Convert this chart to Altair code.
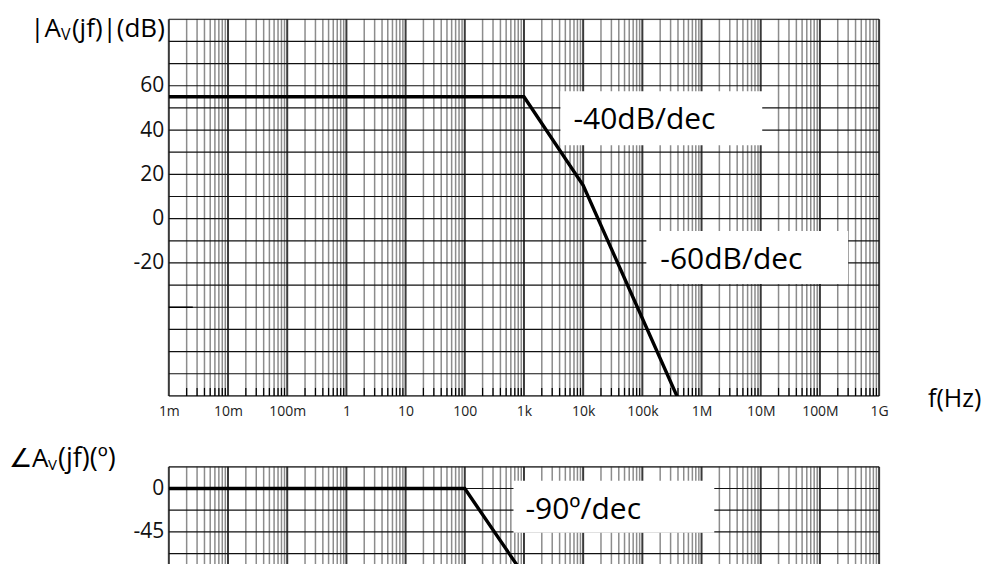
import altair as alt
import pandas as pd

# ---- data ----
mag_f = [1e-3, 1e3, 1e4, 1e6]
mag_db = [55, 55, 15, -105]
ph_f = [1e-3, 1e2, 1e4]
ph_deg = [0, 0, -180]
stub_f = [1e-3, 2.54e-3]
stub_db = [-40, -40]

decade_exp = list(range(-3, 10))
decade_labels = ["1m", "10m", "100m", "1", "10", "100", "1k", "10k",
                 "100k", "1M", "10M", "100M", "1G"]
minor_mult = [2, 3, 4, 5, 6, 7, 8, 9]
mag_grid = list(range(-80, 91, 10))
mag_ticks = [60, 40, 20, 0, -20]
ph_grid = [22.5, 0, -22.5, -45, -67.5]
ph_ticks = [0, -45]

FONT = "Open Sans"
W = 711
H1 = 377
H2 = 98

decades = [10.0 ** e for e in decade_exp]
minors = [m * 10.0 ** e for e in decade_exp[:-1] for m in minor_mult]

df_major = pd.DataFrame({"f": decades})
df_minor = pd.DataFrame({"f": minors})
df_mag = pd.DataFrame({"f": mag_f, "v": mag_db})
df_stub = pd.DataFrame({"f": stub_f, "v": stub_db})
df_ph = pd.DataFrame({"f": ph_f, "v": ph_deg})
df_hmag = pd.DataFrame({"v": mag_grid})
df_hph = pd.DataFrame({"v": ph_grid})
one = pd.DataFrame({"a": [0]})

label_js = "[" + ",".join("'%s'" % s for s in decade_labels) + "]"
xscale = alt.Scale(type="log", domain=[1e-3, 1e9])


def xenc(axis=True):
    if axis:
        ax = alt.Axis(values=decades, labelExpr=label_js + "[round(log(datum.value)/LN10)+3]",
                      grid=False, ticks=False, domain=False, title=None,
                      labelFont=FONT, labelFontSize=14, labelColor="#222",
                      labelPadding=9, labelFlush=False, labelOverlap=False)
    else:
        ax = None
    return alt.X("f:Q", scale=xscale, axis=ax)


def yenc(domain, ticks):
    return alt.Y("v:Q", scale=alt.Scale(domain=domain, nice=False, zero=False),
                 axis=alt.Axis(values=ticks, grid=False, ticks=False, domain=False,
                               title=None, labelFont=FONT, labelFontSize=21,
                               labelColor="#111", labelPadding=5,
                               labelExpr="'' + datum.value", labelFlush=False))


def text(t, x, y, size, align="left", baseline="alphabetic"):
    return alt.Chart(one).mark_text(text=t, font=FONT, fontSize=size, align=align,
                                    baseline=baseline, color="#000").encode(
        x=alt.value(x), y=alt.value(y))


def box(x1, x2, y1, y2):
    return alt.Chart(one).mark_rect(color="white").encode(
        x=alt.value(x1), x2=alt.value(x2), y=alt.value(y1), y2=alt.value(y2))


def grid_layers(axis, ydom, yticks, hdf):
    minor = alt.Chart(df_minor).mark_rule(color="#8c8c8c", strokeWidth=1.5).encode(x=xenc(axis))
    major = alt.Chart(df_major).mark_rule(color="#3a3a3a", strokeWidth=2).encode(x=xenc(axis))
    hl = alt.Chart(hdf).mark_rule(color="#111", strokeWidth=1.2).encode(y=yenc(ydom, yticks))
    return [minor, major, hl]


# ---- magnitude panel ----
mag_dom = [-80, 90]
top_layers = grid_layers(True, mag_dom, mag_ticks, df_hmag)
ticks_bottom = alt.Chart(df_minor).mark_rule(color="#000", strokeWidth=1.2).encode(
    x=xenc(True), y=alt.value(H1 - 8), y2=alt.value(H1))
stub = alt.Chart(df_stub).mark_line(color="#000", strokeWidth=1.5).encode(
    x=xenc(True), y=yenc(mag_dom, mag_ticks))
mag_line = alt.Chart(df_mag).mark_line(color="#000", strokeWidth=3.4, clip=True).encode(
    x=xenc(True), y=yenc(mag_dom, mag_ticks))
marker_t = alt.Chart(one).mark_rule(color="white").encode(
    x=alt.value(-100), x2=alt.value(-99), y=alt.value(-10), y2=alt.value(-9))

top = alt.layer(
    *top_layers, ticks_bottom,
    box(392, 594, 72, 126), box(478, 680, 212, 265),
    stub, mag_line,
    text("-40dB/dec", 405, 110, 30),
    text("-60dB/dec", 492, 250, 30),
    text("|A", -108, 18, 26, align="right"),
    text("V", -108, 21, 16),
    text("(jf)|(dB)", -97, 18, 26),
    text("f(Hz)", 760, 388, 25),
    marker_t,
).properties(width=W, height=H1)

# ---- phase panel ----
ph_dom = [-79, 22.5]
bot_layers = grid_layers(False, ph_dom, ph_ticks, df_hph)
ph_line = alt.Chart(df_ph).mark_line(color="#000", strokeWidth=3.4, clip=True).encode(
    x=xenc(False), y=yenc(ph_dom, ph_ticks))

bottom = alt.layer(
    *bot_layers,
    box(345, 546, 14, 66),
    ph_line,
    text("-90º/dec", 357, 52, 30),
    text("∠A", -160, 0, 26),
    text("V", -121, 3, 15),
    text("(jf)(º)", -111, 0, 27),
).properties(width=W, height=H2)

chart = alt.vconcat(top, bottom, spacing=71, bounds="flush").properties(
    padding=0
).configure_view(stroke="#000", strokeWidth=1.5).configure(font=FONT)

chart.save("out.html", embed_options={"renderer": "svg", "actions": False})
